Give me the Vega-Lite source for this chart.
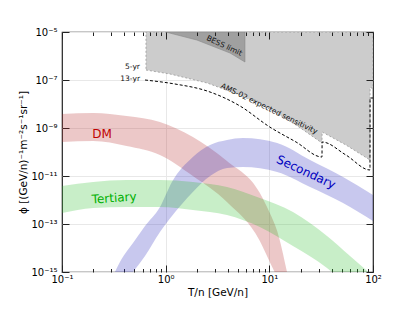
{
  "$schema": "https://vega.github.io/schema/vega-lite/v6.json",
  "width": 311,
  "height": 240,
  "autosize": "none",
  "padding": {"left": 62, "top": 32, "right": 42, "bottom": 48},
  "background": "white",
  "config": {
    "view": {"stroke": "#222222", "strokeWidth": 1.2},
    "font": "DejaVu Sans",
    "axis": {"labelFont": "DejaVu Sans", "titleFont": "DejaVu Sans", "labelColor": "#000", "titleColor": "#000", "tickColor": "#222", "domain": false, "titleFontWeight": "normal"}
  },
  "datasets": {
    "bands": [
      {"band": "DM", "x": 0.1, "hi": 3.83e-9, "lo": 2.61e-10},
      {"band": "DM", "x": 0.2, "hi": 4.22e-9, "lo": 2.87e-10},
      {"band": "DM", "x": 0.42, "hi": 3.16e-9, "lo": 1.78e-10},
      {"band": "DM", "x": 0.88, "hi": 1.78e-9, "lo": 7.5e-11},
      {"band": "DM", "x": 1.83, "hi": 4.22e-10, "lo": 1e-11},
      {"band": "DM", "x": 3.9, "hi": 4.22e-11, "lo": 8.26e-13},
      {"band": "DM", "x": 8.1, "hi": 1.96e-12, "lo": 1.96e-14},
      {"band": "DM", "x": 10.1, "hi": 2.88e-13, "lo": 2.63e-15},
      {"band": "DM", "x": 11.9, "hi": 5.13e-14, "lo": 5.6e-16},
      {"band": "DM", "x": 14.8, "hi": 1e-15, "lo": 2.63e-17},
      {"band": "Secondary", "x": 0.324, "hi": 1e-15, "lo": 9.1e-17},
      {"band": "Secondary", "x": 0.371, "hi": 3.16e-15, "lo": 2.9e-16},
      {"band": "Secondary", "x": 0.484, "hi": 1.62e-14, "lo": 1e-15},
      {"band": "Secondary", "x": 0.632, "hi": 8.26e-14, "lo": 4.64e-15},
      {"band": "Secondary", "x": 0.881, "hi": 5.13e-13, "lo": 4.64e-14},
      {"band": "Secondary", "x": 1.15, "hi": 5.6e-12, "lo": 2.15e-13},
      {"band": "Secondary", "x": 1.83, "hi": 6.19e-11, "lo": 2.15e-12},
      {"band": "Secondary", "x": 2.68, "hi": 1.96e-10, "lo": 1e-11},
      {"band": "Secondary", "x": 3.91, "hi": 3.16e-10, "lo": 2.15e-11},
      {"band": "Secondary", "x": 5.57, "hi": 3.83e-10, "lo": 2.37e-11},
      {"band": "Secondary", "x": 11.9, "hi": 2.37e-10, "lo": 1.47e-11},
      {"band": "Secondary", "x": 24.7, "hi": 4.64e-11, "lo": 3.48e-12},
      {"band": "Secondary", "x": 51.4, "hi": 9.08e-12, "lo": 7.5e-13},
      {"band": "Secondary", "x": 100, "hi": 1.62e-12, "lo": 1.33e-13},
      {"band": "Tertiary", "x": 0.1, "hi": 3.83e-12, "lo": 2.87e-13},
      {"band": "Tertiary", "x": 0.2, "hi": 5.62e-12, "lo": 4.64e-13},
      {"band": "Tertiary", "x": 0.42, "hi": 6.81e-12, "lo": 5.13e-13},
      {"band": "Tertiary", "x": 0.88, "hi": 6.81e-12, "lo": 5.13e-13},
      {"band": "Tertiary", "x": 1.83, "hi": 5.62e-12, "lo": 3.83e-13},
      {"band": "Tertiary", "x": 3.9, "hi": 3.48e-12, "lo": 2.37e-13},
      {"band": "Tertiary", "x": 8.1, "hi": 1.21e-12, "lo": 7.5e-14},
      {"band": "Tertiary", "x": 16.9, "hi": 3.16e-13, "lo": 1.21e-14},
      {"band": "Tertiary", "x": 36.0, "hi": 3.16e-14, "lo": 1.47e-15},
      {"band": "Tertiary", "x": 60, "hi": 4.64e-15, "lo": 2.15e-16},
      {"band": "Tertiary", "x": 100, "hi": 6.8e-16, "lo": 3.16e-17}
    ],
    "sens5": [
      {"x": 0.646, "y": 2.61e-7},
      {"x": 1.10, "y": 1.78e-7},
      {"x": 2.51, "y": 7.5e-8},
      {"x": 5.21, "y": 2.37e-8},
      {"x": 10.1, "y": 6.19e-9},
      {"x": 18.1, "y": 1.33e-9},
      {"x": 32.2, "y": 2.37e-10},
      {"x": 32.3, "y": 6.81e-10},
      {"x": 54.8, "y": 1.96e-10},
      {"x": 93.5, "y": 4.64e-11},
      {"x": 93.7, "y": 4.64e-8},
      {"x": 100, "y": 4.64e-8}
    ],
    "sens13": [
      {"x": 0.632, "y": 1e-7},
      {"x": 1.23, "y": 6.81e-8},
      {"x": 2.51, "y": 3.48e-8},
      {"x": 5.21, "y": 8.26e-9},
      {"x": 10.1, "y": 1.10e-9},
      {"x": 18.1, "y": 2.61e-10},
      {"x": 32.2, "y": 6.19e-11},
      {"x": 32.3, "y": 2.61e-10},
      {"x": 54.8, "y": 7.5e-11},
      {"x": 93.5, "y": 1.78e-11},
      {"x": 93.7, "y": 1.78e-8},
      {"x": 100, "y": 1.78e-8}
    ],
    "bess": [
      {"x": 1.0, "y": 1e-5},
      {"x": 2.0, "y": 4.64e-6},
      {"x": 4.18, "y": 1.33e-6},
      {"x": 5.82, "y": 5.62e-7}
    ]
  },
  "resolve": {"axis": {"x": "independent", "y": "independent"}},
  "layer": [
    {
      "data": {"name": "sens5"},
      "mark": {"type": "area", "fill": "#cccccc", "stroke": "#999999", "strokeWidth": 0.8, "strokeDash": [2, 2], "clip": true},
      "encoding": {
        "x": {"field": "x", "type": "quantitative", "scale": {"type": "log", "domain": [0.1, 100], "nice": false},
          "axis": {"orient": "bottom", "values": [0.1,0.2,0.3,0.4,0.5,0.6,0.7,0.8,0.9,1,2,3,4,5,6,7,8,9,10,20,30,40,50,60,70,80,90,100],
            "labelExpr": "datum.value == 0.1 ? '10⁻¹' : datum.value == 1 ? '10⁰' : datum.value == 10 ? '10¹' : datum.value == 100 ? '10²' : ''",
            "tickSize": {"condition": {"test": "datum.value == 0.1 || datum.value == 1 || datum.value == 10 || datum.value == 100", "value": -7}, "value": -3.5},
            "grid": true, "gridColor": "#e8e8e8",
            "gridOpacity": {"condition": {"test": "datum.value == 1 || datum.value == 10", "value": 1}, "value": 0},
            "labelFontSize": 10, "labelPadding": 9, "labelFlush": false, "labelOverlap": false,
            "title": "T/n [GeV/n]", "titleFontSize": 10.5, "titleY": 20, "titleBaseline": "middle"}},
        "y": {"field": "y", "type": "quantitative", "scale": {"type": "log", "domain": [1e-15, 1e-5], "nice": false},
          "axis": {"orient": "left", "values": [1e-15, 1e-13, 1e-11, 1e-9, 1e-7, 1e-5],
            "labelExpr": "round(log(datum.value)/LN10) == -5 ? '10⁻⁵' : round(log(datum.value)/LN10) == -7 ? '10⁻⁷' : round(log(datum.value)/LN10) == -9 ? '10⁻⁹' : round(log(datum.value)/LN10) == -11 ? '10⁻¹¹' : round(log(datum.value)/LN10) == -13 ? '10⁻¹³' : '10⁻¹⁵'",
            "tickSize": -7, "grid": true, "gridColor": "#e8e8e8",
            "labelFontSize": 10, "labelPadding": 12, "labelFlush": false, "labelOverlap": false,
            "title": "ϕ [(GeV/n)⁻¹m⁻²s⁻¹sr⁻¹]", "titleFontSize": 10.5, "titleX": -39, "titleY": 120, "titleBaseline": "middle", "titleAngle": -90}},
        "y2": {"datum": 1e-5}
      }
    },
    {
      "data": {"name": "bess"},
      "mark": {"type": "area", "fill": "#a0a0a0", "stroke": "#888888", "strokeWidth": 0.6, "clip": true},
      "encoding": {
        "x": {"field": "x", "type": "quantitative", "scale": {"type": "log", "domain": [0.1, 100], "nice": false}, "axis": null},
        "y": {"field": "y", "type": "quantitative", "scale": {"type": "log", "domain": [1e-15, 1e-5], "nice": false}, "axis": null},
        "y2": {"datum": 1e-5}
      }
    },
    {
      "data": {"name": "bands"},
      "mark": {"type": "area", "interpolate": "monotone", "opacity": 0.25, "clip": true},
      "encoding": {
        "x": {"field": "x", "type": "quantitative", "scale": {"type": "log", "domain": [0.1, 100], "nice": false}, "axis": null},
        "y": {"field": "hi", "type": "quantitative", "scale": {"type": "log", "domain": [1e-15, 1e-5], "nice": false}, "axis": null},
        "y2": {"field": "lo"},
        "color": {"field": "band", "type": "nominal", "scale": {"domain": ["DM", "Secondary", "Tertiary"], "range": ["#b22222", "#2222bb", "#22bb22"]}, "legend": null}
      }
    },
    {
      "data": {"name": "sens13"},
      "mark": {"type": "line", "interpolate": "monotone", "color": "#000000", "strokeWidth": 1, "strokeDash": [3, 2], "clip": true},
      "encoding": {
        "x": {"field": "x", "type": "quantitative", "scale": {"type": "log", "domain": [0.1, 100], "nice": false},
          "axis": {"orient": "top", "values": [0.1,0.2,0.3,0.4,0.5,0.6,0.7,0.8,0.9,1,2,3,4,5,6,7,8,9,10,20,30,40,50,60,70,80,90,100],
            "labels": false, "title": null, "grid": false, "zindex": 1,
            "tickSize": {"condition": {"test": "datum.value == 0.1 || datum.value == 1 || datum.value == 10 || datum.value == 100", "value": -7}, "value": -3.5}}},
        "y": {"field": "y", "type": "quantitative", "scale": {"type": "log", "domain": [1e-15, 1e-5], "nice": false},
          "axis": {"orient": "right", "values": [1e-15, 1e-13, 1e-11, 1e-9, 1e-7, 1e-5], "labels": false, "title": null, "grid": false, "zindex": 1, "tickSize": -7}}
      }
    },
    {
      "data": {"values": [{"x": 0.243, "y": 5.6e-10, "t": "DM"}]},
      "mark": {"type": "text", "color": "#c00000", "fontSize": 12, "font": "DejaVu Sans"},
      "encoding": {
        "x": {"field": "x", "type": "quantitative", "scale": {"type": "log", "domain": [0.1, 100], "nice": false}, "axis": null},
        "y": {"field": "y", "type": "quantitative", "scale": {"type": "log", "domain": [1e-15, 1e-5], "nice": false}, "axis": null},
        "text": {"field": "t"}
      }
    },
    {
      "data": {"values": [{"x": 0.318, "y": 1.21e-12, "t": "Tertiary"}]},
      "mark": {"type": "text", "color": "#00b000", "fontSize": 12, "angle": -4, "font": "DejaVu Sans"},
      "encoding": {
        "x": {"field": "x", "type": "quantitative", "scale": {"type": "log", "domain": [0.1, 100], "nice": false}, "axis": null},
        "y": {"field": "y", "type": "quantitative", "scale": {"type": "log", "domain": [1e-15, 1e-5], "nice": false}, "axis": null},
        "text": {"field": "t"}
      }
    },
    {
      "data": {"values": [{"x": 22.6, "y": 1.47e-11, "t": "Secondary"}]},
      "mark": {"type": "text", "color": "#0000c0", "fontSize": 12, "angle": 25, "font": "DejaVu Sans"},
      "encoding": {
        "x": {"field": "x", "type": "quantitative", "scale": {"type": "log", "domain": [0.1, 100], "nice": false}, "axis": null},
        "y": {"field": "y", "type": "quantitative", "scale": {"type": "log", "domain": [1e-15, 1e-5], "nice": false}, "axis": null},
        "text": {"field": "t"}
      }
    },
    {
      "data": {"values": [{"x": 9.93, "y": 6.19e-9, "t": "AMS-02 expected sensitivity"}]},
      "mark": {"type": "text", "color": "#111111", "fontSize": 7.5, "angle": 26, "font": "DejaVu Sans"},
      "encoding": {
        "x": {"field": "x", "type": "quantitative", "scale": {"type": "log", "domain": [0.1, 100], "nice": false}, "axis": null},
        "y": {"field": "y", "type": "quantitative", "scale": {"type": "log", "domain": [1e-15, 1e-5], "nice": false}, "axis": null},
        "text": {"field": "t"}
      }
    },
    {
      "data": {"values": [{"x": 3.66, "y": 2.61e-6, "t": "BESS limit"}]},
      "mark": {"type": "text", "color": "#111111", "fontSize": 7.5, "angle": 25, "font": "DejaVu Sans"},
      "encoding": {
        "x": {"field": "x", "type": "quantitative", "scale": {"type": "log", "domain": [0.1, 100], "nice": false}, "axis": null},
        "y": {"field": "y", "type": "quantitative", "scale": {"type": "log", "domain": [1e-15, 1e-5], "nice": false}, "axis": null},
        "text": {"field": "t"}
      }
    },
    {
      "data": {"values": [{"x": 0.565, "y": 3.48e-7, "t": "5-yr"}, {"x": 0.565, "y": 1.10e-7, "t": "13-yr"}]},
      "mark": {"type": "text", "color": "#111111", "fontSize": 7.5, "align": "right", "font": "DejaVu Sans"},
      "encoding": {
        "x": {"field": "x", "type": "quantitative", "scale": {"type": "log", "domain": [0.1, 100], "nice": false}, "axis": null},
        "y": {"field": "y", "type": "quantitative", "scale": {"type": "log", "domain": [1e-15, 1e-5], "nice": false}, "axis": null},
        "text": {"field": "t"}
      }
    }
  ]
}
